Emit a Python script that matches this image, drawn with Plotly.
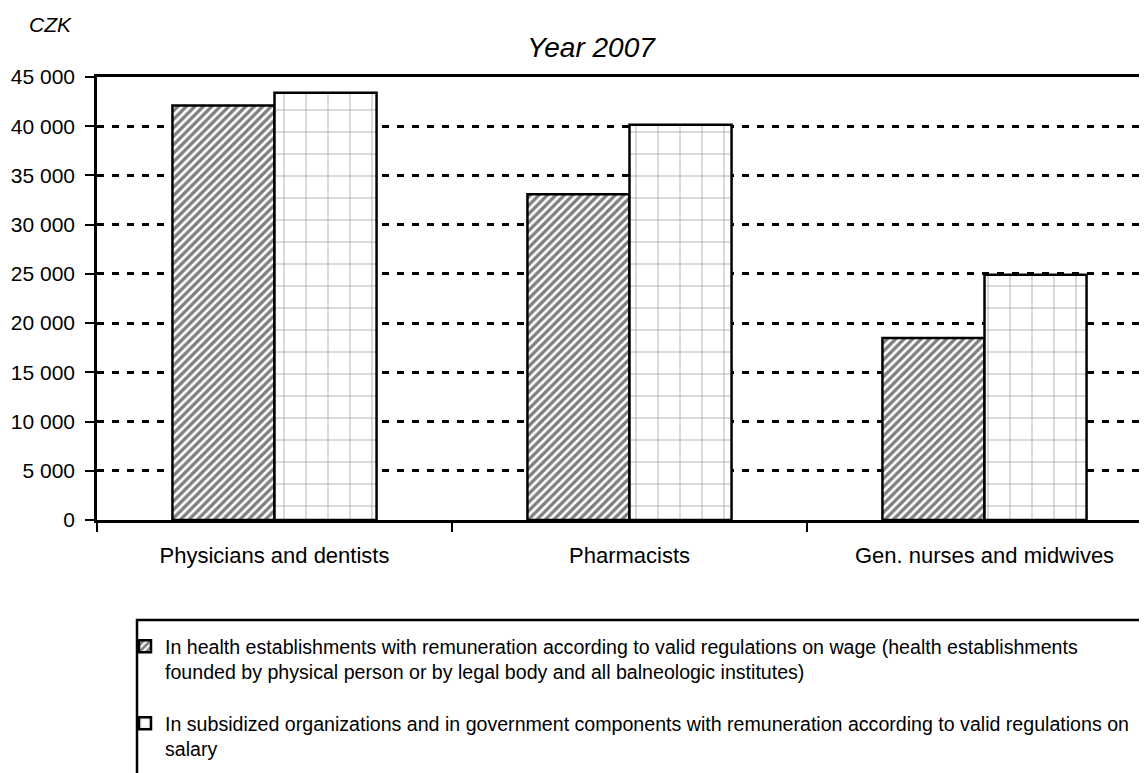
import plotly.graph_objects as go

categories = ["Physicians and dentists", "Pharmacists", "Gen. nurses and midwives"]
series_names = [
    "In health establishments with remuneration according to valid regulations on wage (health establishments<br>founded by physical person or by legal body and all balneologic institutes)",
    "In subsidized organizations and in government components with remuneration according to valid regulations on<br>salary",
]
health_establishments = [42100, 33100, 18500]
subsidized_orgs = [43400, 40150, 24900]
y_ticks = [0, 5000, 10000, 15000, 20000, 25000, 30000, 35000, 40000, 45000]
title_text = "Year 2007"
unit_text = "CZK"

# page body adds an 8px offset; figure is sized so that the visible frame matches
OFF = 8
W, H = 1139, 765
L, R, T, B = 97 - OFF, 0, 77 - OFF, 765 - (520 - OFF)
PW = W - L - R
PH = H - T - B

def px_x(px):
    return (px - OFF - L) / PW

def px_y(py):
    return (H - B - (py - OFF)) / PH

FONT = "Liberation Sans, Arial, sans-serif"

fig = go.Figure()
fig.add_trace(go.Bar(
    x=categories, y=health_establishments, name=series_names[0],
    legendgroup="a",
    marker=dict(color="white", line=dict(color="black", width=2.5),
                pattern=dict(shape="/", fgcolor="black", bgcolor="white",
                             size=6, solidity=0.55, fillmode="overlay")),
))
fig.add_trace(go.Bar(
    x=categories, y=subsidized_orgs, name=series_names[1],
    legendgroup="b",
    marker=dict(color="white", line=dict(color="black", width=2.5),
                pattern=dict(shape="+", fgcolor="#404040", bgcolor="white",
                             size=22, solidity=0.07, fillmode="overlay")),
))

fig.update_layout(
    width=W, height=H,
    margin=dict(l=L, r=R, t=T, b=B, pad=0, autoexpand=False),
    paper_bgcolor="white", plot_bgcolor="white",
    font=dict(family=FONT, size=21, color="black"),
    separators=", ",
    barmode="group", bargap=0.425, bargroupgap=0,
    title=dict(text=title_text, font=dict(size=28, style="italic", family=FONT),
               xref="container", x=(591 - OFF) / W, xanchor="center",
               yref="container", y=1 - (47 - OFF) / H, yanchor="middle"),
    showlegend=True,
    legend=dict(xref="container", yref="container",
                x=117 / W, y=1 - 619 / H, xanchor="left", yanchor="top",
                orientation="v", valign="top", traceorder="grouped",
                tracegroupgap=23, borderwidth=0, bgcolor="rgba(0,0,0,0)",
                font=dict(size=19.6, family=FONT)),
    xaxis=dict(
        type="category", range=[-0.5, -0.5 + PW / 355.0],
        showline=True, linecolor="black", linewidth=2.5, mirror=True,
        ticks="outside", tickson="boundaries", ticklen=9, tickwidth=2,
        tickcolor="black", showgrid=False, zeroline=False,
        ticklabelstandoff=14, tickangle=0, automargin=False,
        tickfont=dict(size=22),
    ),
    yaxis=dict(
        range=[0, 45000], tickvals=y_ticks, tickformat=",d",
        showline=True, linecolor="black", linewidth=2.5,
        ticks="outside", ticklen=9, tickwidth=2, tickcolor="black",
        showgrid=True, gridcolor="black", gridwidth=2.5, griddash="7px,8px",
        zeroline=False, ticklabelstandoff=6, automargin=False,
        tickfont=dict(size=21),
    ),
    annotations=[dict(text="<i>" + unit_text + "</i>", xref="paper", yref="paper",
                      x=px_x(50), y=px_y(25), xanchor="center", yanchor="middle",
                      showarrow=False, font=dict(size=21, family=FONT))],
    shapes=[dict(type="rect", xref="paper", yref="paper",
                 x0=px_x(137), x1=px_x(1170), y0=px_y(620), y1=px_y(800),
                 line=dict(color="black", width=2.5), fillcolor="rgba(0,0,0,0)",
                 layer="above")],
)

fig.write_html("out.html")
